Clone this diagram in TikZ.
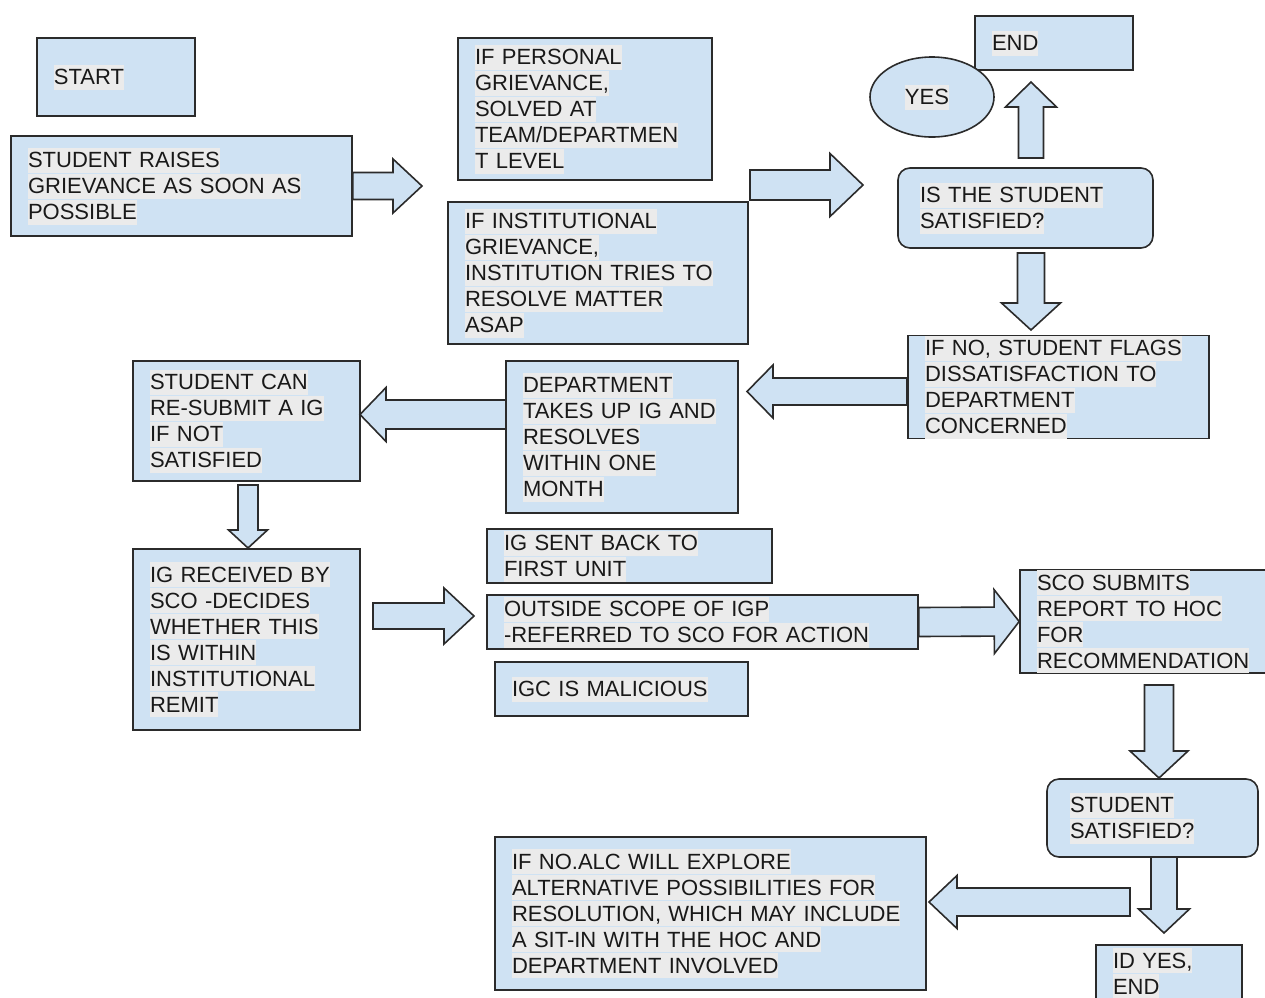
\documentclass[tikz,border=0pt]{standalone}
\usepackage{fontspec}
\setmainfont{Liberation Sans}
\usetikzlibrary{calc, shapes.geometric}

\definecolor{boxblue}{HTML}{CFE2F3}
\definecolor{hlgray}{HTML}{EBEBEB}
\definecolor{inkgray}{HTML}{2B2B2B}

% grey highlight behind one line of text
\newcommand\hlt[1]{{\setlength{\fboxsep}{0pt}\colorbox{hlgray}{\rule[-2.5pt]{0pt}{12.5pt}#1}}}
% fat arrow: from, to, half shaft, half head, head length
\newcommand\blockarrow[5]{%
  \coordinate (ab) at ($(#2)!#5!(#1)$);
  \draw[blockfill] ($(#1)!#3!90:(#2)$) -- ($(ab)!#3!-90:(#1)$) -- ($(ab)!#4!-90:(#1)$)
    -- (#2) -- ($(ab)!#4!90:(#1)$) -- ($(ab)!#3!90:(#1)$) -- ($(#1)!#3!-90:(#2)$) -- cycle;}

\begin{document}
\begin{tikzpicture}[x=0.5pt, y=-0.5pt,
  box/.style={draw=inkgray, line width=0.8pt, fill=boxblue, align=left,
    inner xsep=8.5pt, inner ysep=0pt, text=black!90,
    font=\fontsize{11}{13}\selectfont},
  roundbox/.style={box, rounded corners=6pt, inner xsep=11pt},
  blockfill/.style={draw=inkgray, line width=0.8pt, fill=boxblue, line join=miter}]
  \useasboundingbox (0,0) rectangle (1265,997);

  \node[box, text width=62pt, minimum height=39pt] (start) at (116,77) {\hlt{START}};
  \node[box, text width=153.5pt, minimum height=50pt] (raise) at (181.5,186)
    {\hlt{STUDENT RAISES}\\\hlt{GRIEVANCE AS SOON AS}\\\hlt{POSSIBLE}};
  \node[box, text width=110pt, minimum height=71pt] (personal) at (585,109)
    {\hlt{IF PERSONAL}\\\hlt{GRIEVANCE,}\\\hlt{SOLVED AT}\\\hlt{TEAM/DEPARTMEN}\\\hlt{T LEVEL}};
  \node[box, text width=133pt, minimum height=71pt] (inst) at (598,273)
    {\hlt{IF INSTITUTIONAL}\\\hlt{GRIEVANCE,}\\\hlt{INSTITUTION TRIES TO}\\\hlt{RESOLVE MATTER}\\\hlt{ASAP}};
  \node[box, text width=62pt, minimum height=27pt] (done) at (1054,43) {\hlt{END}};
  \node[box, ellipse, minimum width=62pt, minimum height=40pt, inner sep=0pt] (yes) at (932,97)
    {\hlt{YES}\hspace*{5pt}};
  \node[roundbox, text width=105.5pt, minimum height=40pt] (sat) at (1025.5,208)
    {\hlt{IS THE STUDENT}\\\hlt{SATISFIED?}};
  \node[box, text width=133.5pt, minimum height=50pt] (ifno) at (1058.5,387)
    {\hlt{IF NO, STUDENT FLAGS}\\\hlt{DISSATISFACTION TO}\\\hlt{DEPARTMENT}\\\hlt{CONCERNED}};
  \node[box, text width=96.5pt, minimum height=60pt] (resub) at (246.5,421)
    {\hlt{STUDENT CAN}\\\hlt{RE-SUBMIT A IG}\\\hlt{IF NOT}\\\hlt{SATISFIED}};
  \node[box, text width=99pt, minimum height=76pt] (dept) at (622,437)
    {\hlt{DEPARTMENT}\\\hlt{TAKES UP IG AND}\\\hlt{RESOLVES}\\\hlt{WITHIN ONE}\\\hlt{MONTH}};
  \node[box, text width=96.5pt, minimum height=90.5pt] (igrec) at (246.5,639.5)
    {\hlt{IG RECEIVED BY}\\\hlt{SCO -DECIDES}\\\hlt{WHETHER THIS}\\\hlt{IS WITHIN}\\\hlt{INSTITUTIONAL}\\\hlt{REMIT}};
  \node[box, text width=125.5pt, minimum height=27pt] (sentback) at (629.5,556)
    {\hlt{IG SENT BACK TO}\\\hlt{FIRST UNIT}};
  \node[box, text width=198.5pt, minimum height=27pt] (outside) at (702.5,622)
    {\hlt{OUTSIDE SCOPE OF IGP}\\\hlt{-REFERRED TO SCO FOR ACTION}};
  \node[box, text width=109.5pt, minimum height=27pt] (malic) at (621.5,689) {\hlt{IGC IS MALICIOUS}};
  \node[box, text width=110.5pt, minimum height=50.5pt] (sco) at (1147.5,621.5)
    {\hlt{SCO SUBMITS}\\\hlt{REPORT TO HOC}\\\hlt{FOR}\\\hlt{RECOMMENDATION}};
  \node[roundbox, inner xsep=11.5pt, text width=82.5pt, minimum height=39pt] (satagain) at (1152.5,818)
    {\hlt{STUDENT}\\\hlt{SATISFIED?}};
  \node[box, text width=198.5pt, minimum height=76.5pt] (alc) at (710.5,913.5)
    {\hlt{IF NO.ALC WILL EXPLORE}\\\hlt{ALTERNATIVE POSSIBILITIES FOR}\\\hlt{RESOLUTION, WHICH MAY INCLUDE}\\\hlt{A SIT-IN WITH THE HOC AND}\\\hlt{DEPARTMENT INVOLVED}};
  \node[box, text width=56pt, minimum height=28.5pt] (idyes) at (1169,973.5)
    {\hlt{ID YES,}\\\hlt{END}};

  \coordinate (a1) at (422,186);
  \coordinate (a2s) at (750,185);
  \coordinate (a2) at (863,185);
  \coordinate (a3s) at (1031,158);
  \coordinate (a3) at (1031,82);
  \coordinate (a4s) at (1031,253);
  \coordinate (a4) at (1031,330);
  \coordinate (a5s) at (907,391.5);
  \coordinate (a5) at (747,391.5);
  \coordinate (a6s) at (506,414.5);
  \coordinate (a6) at (360,414.5);
  \coordinate (a7s) at (248,485);
  \coordinate (a7) at (248,548);
  \coordinate (a8s) at (373,616);
  \coordinate (a8) at (474,616);
  \coordinate (a10s) at (1159,685);
  \coordinate (a10) at (1159,778);
  \coordinate (a11s) at (1164,857);
  \coordinate (a11) at (1164,933);
  \coordinate (a12s) at (1130,902);
  \coordinate (a12) at (929,902);

  \blockarrow{raise.east}{a1}{6.75pt}{13.5pt}{14.5pt}
  \blockarrow{a2s}{a2}{7.5pt}{15.75pt}{16.5pt}
  \blockarrow{a3s}{a3}{6.25pt}{12.75pt}{12.5pt}
  \blockarrow{a4s}{a4}{6.75pt}{14.75pt}{13.5pt}
  \blockarrow{a5s}{a5}{6.75pt}{13.25pt}{13pt}
  \blockarrow{a6s}{a6}{7.25pt}{13.5pt}{13pt}
  \blockarrow{a7s}{a7}{5pt}{9.75pt}{9pt}
  \blockarrow{a8s}{a8}{6.5pt}{14pt}{15pt}
  \blockarrow{outside.east}{sco.west}{7.25pt}{16pt}{12.5pt}
  \blockarrow{a10s}{a10}{7.25pt}{14.5pt}{13.5pt}
  \blockarrow{a11s}{a11}{6.5pt}{12.75pt}{12pt}
  \blockarrow{a12s}{a12}{7pt}{13.25pt}{14pt}
\end{tikzpicture}
\end{document}
